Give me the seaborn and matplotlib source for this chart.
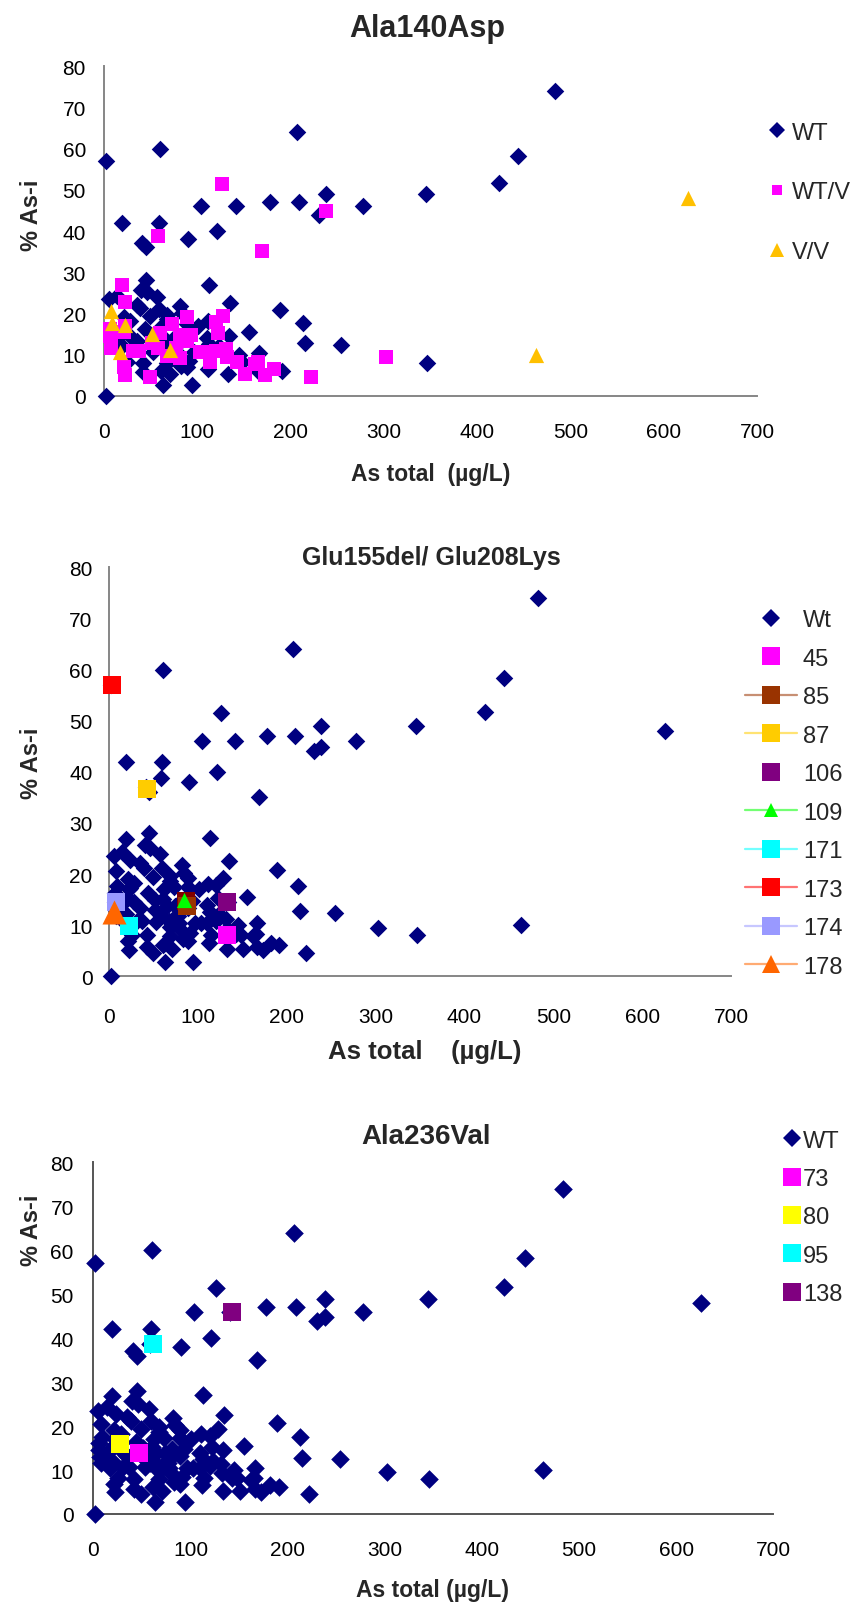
import matplotlib
matplotlib.use("Agg")
import matplotlib.pyplot as plt
import seaborn as sns
from matplotlib.lines import Line2D
from matplotlib.colors import to_rgb

# ---------------- data ----------------
# Panel 1 (Ala140Asp) genotype groups
wt_x = [2, 60, 207, 345, 104, 141, 178, 209, 238, 230, 278, 19, 59, 121, 90, 41, 45, 113, 45, 40,
        46, 5, 14, 57, 35, 39, 59, 49, 135, 189, 82, 68, 213, 155, 215, 254, 346, 191, 166, 166,
        145, 148, 134, 133, 111, 110, 112, 94, 63, 2, 42, 42, 25, 61, 71, 89, 91, 101, 96, 84,
        89, 21, 28, 44, 28, 35, 62, 123, 74, 80, 67, 78, 17, 19, 483, 444, 423, 68, 113, 68,
        83, 65, 53]
wt_y = [57, 60, 64, 49, 46, 46, 47, 47, 49, 44, 46, 42, 42, 40, 38, 37, 36, 27, 28, 25.7,
        25.1, 23.5, 24.3, 23.9, 22.1, 21.2, 21.1, 19.4, 22.5, 20.7, 21.8, 19.7, 17.6, 15.5, 12.7, 12.4, 8, 6.1, 10.4, 5.7,
        10, 8.1, 14.6, 5.3, 18.1, 13.9, 6.5, 2.7, 2.7, 0, 8, 5.7, 8.1, 6.1, 5.3, 6.9, 8.5, 17, 10.5, 20.2,
        17.4, 19, 18.2, 16.3, 14.6, 13.3, 17, 12.1, 13.8, 12.9, 10.9, 10.5, 14.6, 12.1, 74, 58.3, 51.7, 18.7, 12.5, 7.9,
        7.3, 13.8, 10.6]

wtv_x = [126, 238, 58, 169, 19, 23, 89, 128, 120, 73, 122, 93, 81, 89, 60, 6, 6, 7, 8, 22,
         21, 51, 58, 31, 37, 77, 68, 81, 103, 110, 120, 131, 132, 114, 143, 21, 22, 49, 151, 162,
         165, 173, 182, 222, 302]
wtv_y = [51.5, 44.8, 38.7, 35.1, 26.8, 22.7, 19.2, 19.3, 17.8, 17.4, 15.3, 14.8, 14.8, 13.3, 15.2, 16.2, 14.6, 12.9, 11.7, 17,
         15.4, 12.9, 11.7, 10.8, 10.8, 11.7, 9.7, 9.1, 10.5, 10.5, 10.9, 11.3, 9.3, 8.1, 8.3, 6.9, 5.1, 4.6, 5.3, 7.8,
         8.3, 5.1, 6.5, 4.6, 9.5]

vv_x = [7.5, 9, 23, 51, 17.5, 71, 626, 463]
vv_y = [20.5, 17.6, 17.2, 14.9, 10.5, 11, 48, 10]

# whole population (panels 2 and 3 show every sample as wild type background)
all_x = wt_x + wtv_x + vv_x
all_y = wt_y + wtv_y + vv_y

# Panel 2 (Glu155del/ Glu208Lys) carriers
p2_labels = ["45", "85", "87", "106", "109", "171", "173", "174", "178"]
p2_x = [133, 88, 42, 133, 84.5, 22, 3, 7, 5]
p2_y = [8.1, 13.7, 36.6, 14.5, 15.0, 9.8, 57, 14.5, 12.6]
p2_extra_x = [86]
p2_extra_y = [14.8]

# Panel 3 (Ala236Val) carriers
p3_labels = ["73", "80", "95", "138"]
p3_x = [47, 27, 61, 143]
p3_y = [13.8, 15.9, 38.6, 45.9]

x_ticks = [0, 100, 200, 300, 400, 500, 600, 700]
y_ticks = [0, 10, 20, 30, 40, 50, 60, 70, 80]

# ---------------- style ----------------
sns.set_style("white")
plt.rcParams["font.family"] = ["Liberation Sans", "DejaVu Sans"]

NAVY = "#000080"
p2_colors = ["#FF00FF", "#993300", "#FFCC00", "#800080", "#00FF00", "#00FFFF", "#FF0000", "#9999FF", "#FF6600"]
p2_markers = ["s", "s", "s", "s", "^", "s", "s", "s", "^"]
p2_sizes = [160, 160, 160, 160, 120, 160, 160, 160, 300]
p2_has_line = [False, True, True, False, True, True, True, True, True]
p3_colors = ["#FF00FF", "#FFFF00", "#00FFFF", "#800080"]

FW, FH = 852, 1606
fig = plt.figure(figsize=(FW / 100, FH / 100), dpi=100)


def rect(l, t, r, b):
    return [l / FW, 1 - b / FH, (r - l) / FW, (b - t) / FH]


def fx(x):
    return x / FW


def fy(y):
    return 1 - y / FH


def lighten(c, f=0.45):
    r, g, b = to_rgb(c)
    return (r + (1 - r) * f, g + (1 - g) * f, b + (1 - b) * f)


def style(ax, spine_color, xpad, ypad):
    ax.set_xlim(0, 700)
    ax.set_ylim(0, 80)
    ax.set_xticks(x_ticks)
    ax.set_yticks(y_ticks)
    ax.set_xticklabels([str(v) for v in x_ticks])
    ax.set_yticklabels([str(v) for v in y_ticks])
    for s in ["top", "right"]:
        ax.spines[s].set_visible(False)
    for s in ["left", "bottom"]:
        ax.spines[s].set_color(spine_color)
        ax.spines[s].set_linewidth(1.4)
    ax.tick_params(axis="both", direction="out", length=5, width=1.2, color=spine_color,
                   labelsize=15, labelcolor="black")
    ax.tick_params(axis="x", pad=xpad)
    ax.tick_params(axis="y", pad=ypad)
    ax.patch.set_visible(False)
    ax.grid(False)


ax1 = fig.add_axes(rect(104, 67.3, 757, 396.7))
ax2 = fig.add_axes(rect(109.3, 568.3, 731, 977.3))
ax3 = fig.add_axes(rect(93.3, 1163.3, 773.3, 1515))

# ---------------- panel 1 ----------------
sns.scatterplot(x=wt_x, y=wt_y, ax=ax1, marker="D", color=NAVY, s=80, linewidth=0,
                clip_on=False, legend=False, zorder=3)
sns.scatterplot(x=wtv_x, y=wtv_y, ax=ax1, marker="s", color="#FF00FF", s=88, linewidth=0,
                clip_on=False, legend=False, zorder=4)
sns.scatterplot(x=vv_x, y=vv_y, ax=ax1, marker="^", color="#FFC000", s=120, linewidth=0,
                clip_on=False, legend=False, zorder=5)
style(ax1, "#868686", 14, 8)
h1 = [Line2D([], [], ls="none", marker="D", color=NAVY, markersize=8.2, mew=0, label="WT"),
      Line2D([], [], ls="none", marker="s", color="#FF00FF", markersize=7.8, mew=0, label="WT/V"),
      Line2D([], [], ls="none", marker="^", color="#FFC000", markersize=10.5, mew=0, label="V/V")]
ax1.legend(handles=h1, loc="upper left", bbox_to_anchor=(fx(768), fy(122.7)),
           bbox_transform=fig.transFigure, frameon=False, fontsize=17, handlelength=0.8,
           handletextpad=0.2, labelspacing=1.6, borderpad=0, borderaxespad=0)
fig.text(fx(427), fy(37), "Ala140Asp", ha="center", va="baseline", fontsize=22, fontweight="bold")
ax1.set_xlabel("As total  (µg/L)", fontsize=16.5, fontweight="bold", va="center")
ax1.xaxis.set_label_coords(fx(431), fy(475), transform=fig.transFigure)
ax1.set_ylabel("% As-i", fontsize=17, fontweight="bold", va="center", ha="center")
ax1.yaxis.set_label_coords(fx(32), fy(215), transform=fig.transFigure)

# ---------------- panel 2 ----------------
sns.scatterplot(x=all_x, y=all_y, ax=ax2, marker="D", color=NAVY, s=80, linewidth=0,
                clip_on=False, legend=False, zorder=3)
sns.scatterplot(x=p2_extra_x, y=p2_extra_y, ax=ax2, marker="s", color="#800000", s=160,
                linewidth=0, clip_on=False, legend=False, zorder=4)
for i, lab in enumerate(p2_labels):
    sns.scatterplot(x=[p2_x[i]], y=[p2_y[i]], ax=ax2, marker=p2_markers[i], color=p2_colors[i],
                    s=p2_sizes[i], linewidth=0, clip_on=False, legend=False,
                    zorder=6 if p2_markers[i] == "^" else 5)
style(ax2, "#868686", 17, 7)
h2 = [Line2D([], [], ls="none", marker="D", color=NAVY, markersize=9.0, mew=0, label="Wt")]
for i, lab in enumerate(p2_labels):
    ms = 12.4 if p2_markers[i] == "s" else (10.5 if lab == "109" else 13.5)
    h2.append(Line2D([], [], ls="-" if p2_has_line[i] else "none", lw=1.6,
                     color=lighten(p2_colors[i]), marker=p2_markers[i], markersize=ms, mew=0,
                     markerfacecolor=p2_colors[i], label=lab))
ax2.legend(handles=h2, loc="upper left", bbox_to_anchor=(fx(745), fy(610)),
           bbox_transform=fig.transFigure, frameon=False, fontsize=17, handlelength=2.2,
           handletextpad=0.25, labelspacing=0.70, borderpad=0, borderaxespad=0)
fig.text(fx(431), fy(565), "Glu155del/ Glu208Lys", ha="center", va="baseline", fontsize=18,
         fontweight="bold")
ax2.set_xlabel("As total    (µg/L)", fontsize=18.5, fontweight="bold", va="center")
ax2.xaxis.set_label_coords(fx(425), fy(1052), transform=fig.transFigure)
ax2.set_ylabel("% As-i", fontsize=17, fontweight="bold", va="center", ha="center")
ax2.yaxis.set_label_coords(fx(32), fy(763), transform=fig.transFigure)

# ---------------- panel 3 ----------------
sns.scatterplot(x=all_x, y=all_y, ax=ax3, marker="D", color=NAVY, s=90, linewidth=0,
                clip_on=False, legend=False, zorder=3)
for i, lab in enumerate(p3_labels):
    sns.scatterplot(x=[p3_x[i]], y=[p3_y[i]], ax=ax3, marker="s", color=p3_colors[i], s=160,
                    linewidth=0, clip_on=False, legend=False, zorder=5)
style(ax3, "#555555", 14, 9)
h3 = [Line2D([], [], ls="none", marker="D", color=NAVY, markersize=9.0, mew=0, label="WT")]
for i, lab in enumerate(p3_labels):
    h3.append(Line2D([], [], ls="none", marker="s", color=p3_colors[i], markersize=12.4, mew=0,
                     label=lab))
ax3.legend(handles=h3, loc="upper left", bbox_to_anchor=(fx(783), fy(1130.7)),
           bbox_transform=fig.transFigure, frameon=False, fontsize=17, handlelength=0.8,
           handletextpad=0.05, labelspacing=0.69, borderpad=0, borderaxespad=0)
fig.text(fx(426), fy(1144), "Ala236Val", ha="center", va="baseline", fontsize=20, fontweight="bold")
ax3.set_xlabel("As total (µg/L)", fontsize=16.5, fontweight="bold", va="center")
ax3.xaxis.set_label_coords(fx(433), fy(1591), transform=fig.transFigure)
ax3.set_ylabel("% As-i", fontsize=17, fontweight="bold", va="center", ha="center")
ax3.yaxis.set_label_coords(fx(32), fy(1230), transform=fig.transFigure)

fig.savefig("out.png", dpi=100)
